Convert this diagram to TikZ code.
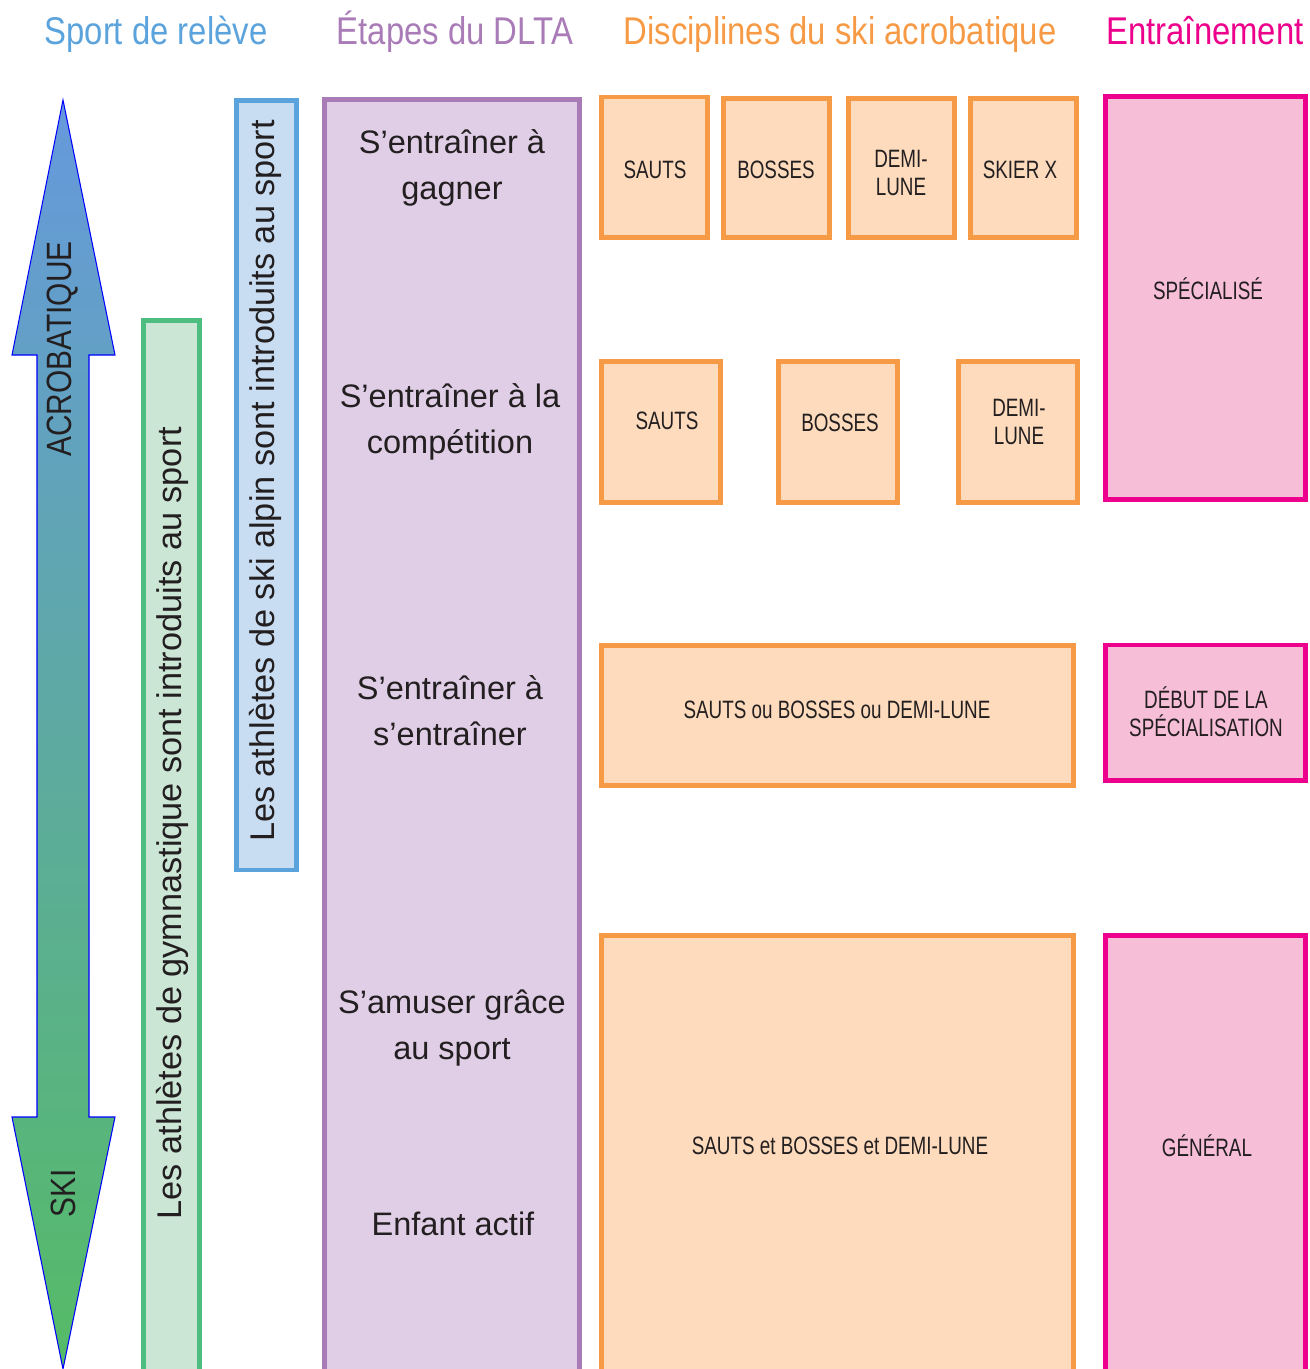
\documentclass[tikz,border=0pt]{standalone}
\usepackage{fontspec}
\setmainfont{Liberation Sans}
\newfontfamily\headfont[FakeStretch=0.85]{Liberation Sans}
\newfontfamily\boxfont[FakeStretch=0.75]{Liberation Sans}
\usepackage{tikz}

\definecolor{txt}{HTML}{231F20}
\definecolor{releveblue}{HTML}{5BA3DC}
\definecolor{relevefill}{HTML}{C9DDF2}
\definecolor{gymgreen}{HTML}{4EBD80}
\definecolor{gymfill}{HTML}{CCE6D6}
\definecolor{dltapurple}{HTML}{A97CB8}
\definecolor{dltafill}{HTML}{DFCEE6}
\definecolor{discorange}{HTML}{F79A45}
\definecolor{discfill}{HTML}{FDDBBC}
\definecolor{trainpink}{HTML}{EC008C}
\definecolor{trainfill}{HTML}{F6BED7}
\definecolor{arrowtop}{HTML}{6699DD}
\definecolor{arrowbot}{HTML}{55BB66}

\begin{document}
\begin{tikzpicture}[x=0.02cm, y=0.02cm,
    head/.style={anchor=base, font=\headfont\fontsize{22}{26}\selectfont},
    stage/.style={align=center, text=txt, font=\fontsize{18.5}{26}\selectfont},
    lbl/.style={align=center, text=txt, font=\boxfont\fontsize{14.3}{16}\selectfont},
    vert/.style={rotate=90, text=txt, font=\fontsize{19.5}{24}\selectfont},
    relevebox/.style={draw=releveblue, fill=relevefill, line width=2.8pt},
    gymbox/.style={draw=gymgreen, fill=gymfill, line width=2.8pt},
    dltabox/.style={draw=dltapurple, fill=dltafill, line width=2.8pt},
    discbox/.style={draw=discorange, fill=discfill, line width=2.8pt},
    trainbox/.style={draw=trainpink, fill=trainfill, line width=2.8pt}]
        \useasboundingbox (0,0) rectangle (1309,-1369);

        % Column titles
        \node[head, text=releveblue] (t1) at (156,-44) {Sport de relève};
        \node[head, text=dltapurple] (t2) at (455,-44) {Étapes du DLTA};
        \node[head, text=discorange] (t3) at (840,-44) {Disciplines du ski acrobatique};
        \node[head, text=trainpink] (t4) at (1205,-44) {Entraînement};

        % Double arrow
        \draw[blue, line width=0.6pt, top color=arrowtop, bottom color=arrowbot]
            (63,-100) -- (115,-355) -- (89,-355) -- (89,-1117) -- (115,-1117)
            -- (63,-1369) -- (12,-1117) -- (37,-1117) -- (37,-355) -- (12,-355) -- cycle;
        \node[rotate=90, text=txt, font=\headfont\fontsize{20}{24}\selectfont] (acro) at (63,-349) {ACROBATIQUE};
        \node[rotate=90, text=txt, font=\headfont\fontsize{20}{24}\selectfont] (ski) at (63,-1193) {SKI};

        % Sport de releve bars
        \draw[gymbox] (143.5,-320.5) rectangle (199.5,-1385);
        \node[vert] (gym) at (172,-823) {Les athlètes de gymnastique sont introduits au sport};
        \draw[relevebox] (236.5,-100.5) rectangle (296.5,-870);
        \node[vert] (alpin) at (265,-481) {Les athlètes de ski alpin sont introduits au sport};

        % Etapes du DLTA
        \draw[dltabox] (324.5,-99.5) rectangle (579.5,-1385);
        \node[stage] (gagner) at (452,-168) {S’entraîner à\\gagner};
        \node[stage] (compet) at (450,-422) {S’entraîner à la\\compétition};
        \node[stage] (entrainer) at (450,-711) {S’entraîner à\\s’entraîner};
        \node[stage] (amuser) at (452,-1028) {S’amuser grâce\\au sport};
        \node[stage] (enfant) at (453,-1224) {Enfant actif};

        % Disciplines - row 1
        \draw[discbox] (601.5,-97) rectangle (707.5,-237.5);
        \node[lbl] (sauts1) at (655,-170) {SAUTS};
        \draw[discbox] (723.5,-98.5) rectangle (829.5,-237.5);
        \node[lbl] (bosses1) at (776,-170) {BOSSES};
        \draw[discbox] (848.5,-98.5) rectangle (954.5,-237.5);
        \node[lbl] (demi1) at (901,-173) {DEMI-\\LUNE};
        \draw[discbox] (970.5,-98.5) rectangle (1076.5,-237.5);
        \node[lbl] (skierx) at (1020,-170) {SKIER X};

        % Disciplines - row 2
        \draw[discbox] (601.5,-361.5) rectangle (720.5,-502.5);
        \node[lbl] (sauts2) at (667,-421) {SAUTS};
        \draw[discbox] (778.5,-361.5) rectangle (897.5,-502.5);
        \node[lbl] (bosses2) at (840,-423) {BOSSES};
        \draw[discbox] (958.5,-361.5) rectangle (1077.5,-502.5);
        \node[lbl] (demi2) at (1019,-422) {DEMI-\\LUNE};

        % Disciplines - rows 3 and 4
        \draw[discbox] (601.5,-645.5) rectangle (1073.5,-785.5);
        \node[lbl] (ou) at (837,-710) {SAUTS ou BOSSES ou DEMI-LUNE};
        \draw[discbox] (601.5,-935.5) rectangle (1073.5,-1385);
        \node[lbl] (et) at (840,-1146) {SAUTS et BOSSES et DEMI-LUNE};

        % Entrainement
        \draw[trainbox] (1105.5,-96.5) rectangle (1305.5,-499.5);
        \node[lbl] (spec) at (1208,-289) {SPÉCIALISÉ};
        \draw[trainbox] (1105.5,-645) rectangle (1305.5,-780.5);
        \node[lbl] (debut) at (1206,-712) {DÉBUT DE LA\\SPÉCIALISATION};
        \draw[trainbox] (1105.5,-935.5) rectangle (1305.5,-1385);
        \node[lbl] (gen) at (1207,-1146) {GÉNÉRAL};
    \end{tikzpicture}
\end{document}
